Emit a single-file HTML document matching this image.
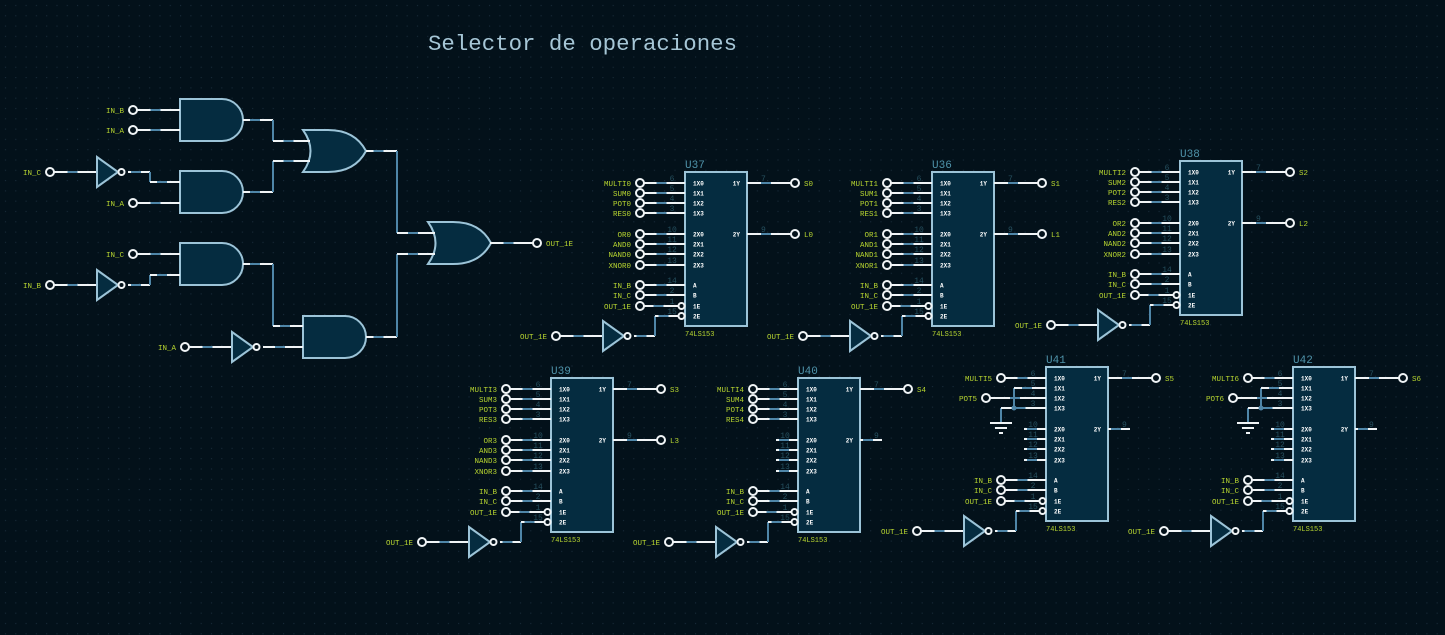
<!DOCTYPE html>
<html><head><meta charset="utf-8"><style>
html,body{margin:0;padding:0;background:#03111a;}
svg{display:block}
text{font-family:"Liberation Mono","DejaVu Sans Mono",monospace;}
</style></head><body>
<svg id="s" width="1445" height="635" viewBox="0 0 1445 635" xmlns="http://www.w3.org/2000/svg">
<defs>
<pattern id="g" width="10.3" height="10.3" patternUnits="userSpaceOnUse"><rect x="5" y="5" width="1" height="1" fill="#1c3040"/></pattern>
</defs>
<rect width="1445" height="635" fill="#03111a"/>
<rect width="1445" height="635" fill="url(#g)"/>
<text x="428" y="50" font-size="22.4" fill="#a6c6d6">Selector de operaciones</text>
<g id="c"></g>
</svg>
<script>
const NS="http://www.w3.org/2000/svg";const G=document.getElementById('c');
function el(t,a,txt){const e=document.createElementNS(NS,t);for(const k in a)e.setAttribute(k,a[k]);if(txt!==undefined)e.textContent=txt;G.appendChild(e);return e;}
const W="#f0f4f6",B="#4f86a8",FILL="#052c40",STR="#9cc4d8",LAB="#b8d630";
function hl(x1,y,x2){el('line',{x1,y1:y,x2,y2:y,stroke:W,'stroke-width':2});
 const m=(x1+x2)/2;if(Math.abs(x2-x1)>20)el('line',{x1:m-8,y1:y,x2:m+2,y2:y,stroke:B,'stroke-width':2});}
function vl(x,y1,y2){el('line',{x1:x,y1,x2:x,y2,stroke:B,'stroke-width':2});}
function term(x,y){el('circle',{cx:x,cy:y,r:4,fill:'#03111a',stroke:W,'stroke-width':2});}
function lab(x,y,t,anchor){el('text',{x,y:y+3,'font-size':7.5,fill:LAB,'text-anchor':anchor||'end'},t);}
function inp(x,y,t){term(x,y);lab(x-9,y,t);}
function outp(x,y,t){term(x,y);lab(x+9,y,t,'start');}
function inv(x,y){el('polygon',{points:`${x},${y-15} ${x},${y+15} ${x+21},${y}`,fill:FILL,stroke:STR,'stroke-width':2});
 el('circle',{cx:x+24.5,cy:y,r:3,fill:'#03111a',stroke:W,'stroke-width':2});}
function and(x,y){el('path',{d:`M${x},${y} H${x+42} A21,21 0 0 1 ${x+42},${y+42} H${x} Z`,fill:FILL,stroke:STR,'stroke-width':2});}
function or(x,y){el('path',{d:`M${x},${y} H${x+25} Q${x+52},${y} ${x+63},${y+21} Q${x+52},${y+42} ${x+25},${y+42} H${x} Q${x+15},${y+21} ${x},${y} Z`,fill:FILL,stroke:STR,'stroke-width':2});}
// left logic
and(180,99);and(180,171);and(180,243);and(303,316);or(303,130);or(428,222);
inp(133,110,'IN_B');hl(137,110,180);inp(133,130,'IN_A');hl(137,130,180);
inp(50,172,'IN_C');hl(54,172,97);inv(97,172);hl(128,172,150);vl(150,172,182);hl(150,182,180);
inp(133,203,'IN_A');hl(137,203,180);
inp(133,254,'IN_C');hl(137,254,180);
inp(50,285,'IN_B');hl(54,285,97);inv(97,285);hl(128,285,150);vl(150,275,285);hl(150,275,180);
inp(185,347,'IN_A');hl(189,347,232);inv(232,347);hl(263,347,303);
hl(243,120,273);vl(273,120,141);hl(273,141,310);
hl(243,192,273);vl(273,161,192);hl(273,161,310);
hl(243,264,273);vl(273,264,326);hl(273,326,303);
hl(366,151,397);vl(397,151,233);hl(397,233,435);
hl(366,337,397);vl(397,254,337);hl(397,254,435);
hl(490,243,533);outp(537,243,'OUT_1E');
// muxes
const OFF=[11,21,31,41,62,72,82,93,113,123,134,144];
const PN=['1X0','1X1','1X2','1X3','2X0','2X1','2X2','2X3','A','B','1E','2E'];
const NUM=['6','5','4','3','10','11','12','13','14','2','1','15'];
function mux(x,y,name,n,ins,o1,o2){
 el('rect',{x,y,width:62,height:154,fill:FILL,stroke:STR,'stroke-width':2});
 el('text',{x:x,y:y-4,'font-size':11,fill:'#4f93aa'},name);
 el('text',{x:x,y:y+164,'font-size':7,fill:LAB},'74LS153');
 for(let i=0;i<12;i++){const py=y+OFF[i];
  el('text',{x:x+8,y:py+2.5,'font-size':6,fill:'#fff','font-weight':'bold'},PN[i]);
  el('text',{x:x-13,y:py-2,'font-size':8,fill:'#26505f','text-anchor':'middle'},NUM[i]);
  const l=ins[i];
  if(i<11){
   if(l===null){hl(x-22,py,x);}
   else if(l==='G'){hl(x-22,py,x);}
   else if(l&&l.p){inp(x-60,py,l.t);hl(x-56,py,x);}
   else {inp(x-45,py,l);hl(x-41,py,x-(i==10?6:0));}
  }
  if(i>=10){el('circle',{cx:x-3.5,cy:py,r:3,fill:'#03111a',stroke:W,'stroke-width':2});}
 }
 const iy=y+164;inp(x-129,iy,'OUT_1E');hl(x-125,iy,x-82);inv(x-82,iy);hl(x-51,iy,x-30);vl(x-30,y+144,iy);hl(x-30,y+144,x-7);
 if(ins[1]==='G'){const y1=y+OFF[1],y3=y+OFF[3];vl(x-32,y1,y3);hl(x-32,y1,x);
   vl(x-45,y3,y+55);hl(x-45,y3,x);el('circle',{cx:x-32,cy:y3,r:2.5,fill:B});
   el('line',{x1:x-56,y1:y+56,x2:x-34,y2:y+56,stroke:W,'stroke-width':2});
   el('line',{x1:x-51,y1:y+61,x2:x-39,y2:y+61,stroke:W,'stroke-width':2});
   el('line',{x1:x-47,y1:y+66,x2:x-43,y2:y+66,stroke:W,'stroke-width':2});}
 el('text',{x:x+55,y:y+OFF[0]+2.5,'font-size':6,fill:'#fff','font-weight':'bold','text-anchor':'end'},'1Y');
 el('text',{x:x+55,y:y+OFF[4]+2.5,'font-size':6,fill:'#fff','font-weight':'bold','text-anchor':'end'},'2Y');
 el('text',{x:x+76,y:y+OFF[0]-2,'font-size':8,fill:'#26505f'},'7');
 el('text',{x:x+76,y:y+OFF[4]-2,'font-size':8,fill:'#26505f'},'9');
 hl(x+62,y+OFF[0],x+106);outp(x+110,y+OFF[0],o1);
 if(o2){hl(x+62,y+OFF[4],x+106);outp(x+110,y+OFF[4],o2);}else hl(x+62,y+OFF[4],x+84);
}
function full(k){return ['MULTI'+k,'SUM'+k,'POT'+k,'RES'+k,'OR'+k,'AND'+k,'NAND'+k,'XNOR'+k,'IN_B','IN_C','OUT_1E'];}
mux(685,172,'U37',0,full(0),'S0','L0');
mux(932,172,'U36',1,full(1),'S1','L1');
mux(1180,161,'U38',2,full(2),'S2','L2');
mux(551,378,'U39',3,full(3),'S3','L3');
mux(798,378,'U40',4,['MULTI4','SUM4','POT4','RES4',null,null,null,null,'IN_B','IN_C','OUT_1E'],'S4',null);
mux(1046,367,'U41',5,['MULTI5','G',{p:1,t:'POT5'},'G',null,null,null,null,'IN_B','IN_C','OUT_1E'],'S5',null);
mux(1293,367,'U42',6,['MULTI6','G',{p:1,t:'POT6'},'G',null,null,null,null,'IN_B','IN_C','OUT_1E'],'S6',null);
</script>
</body></html>
